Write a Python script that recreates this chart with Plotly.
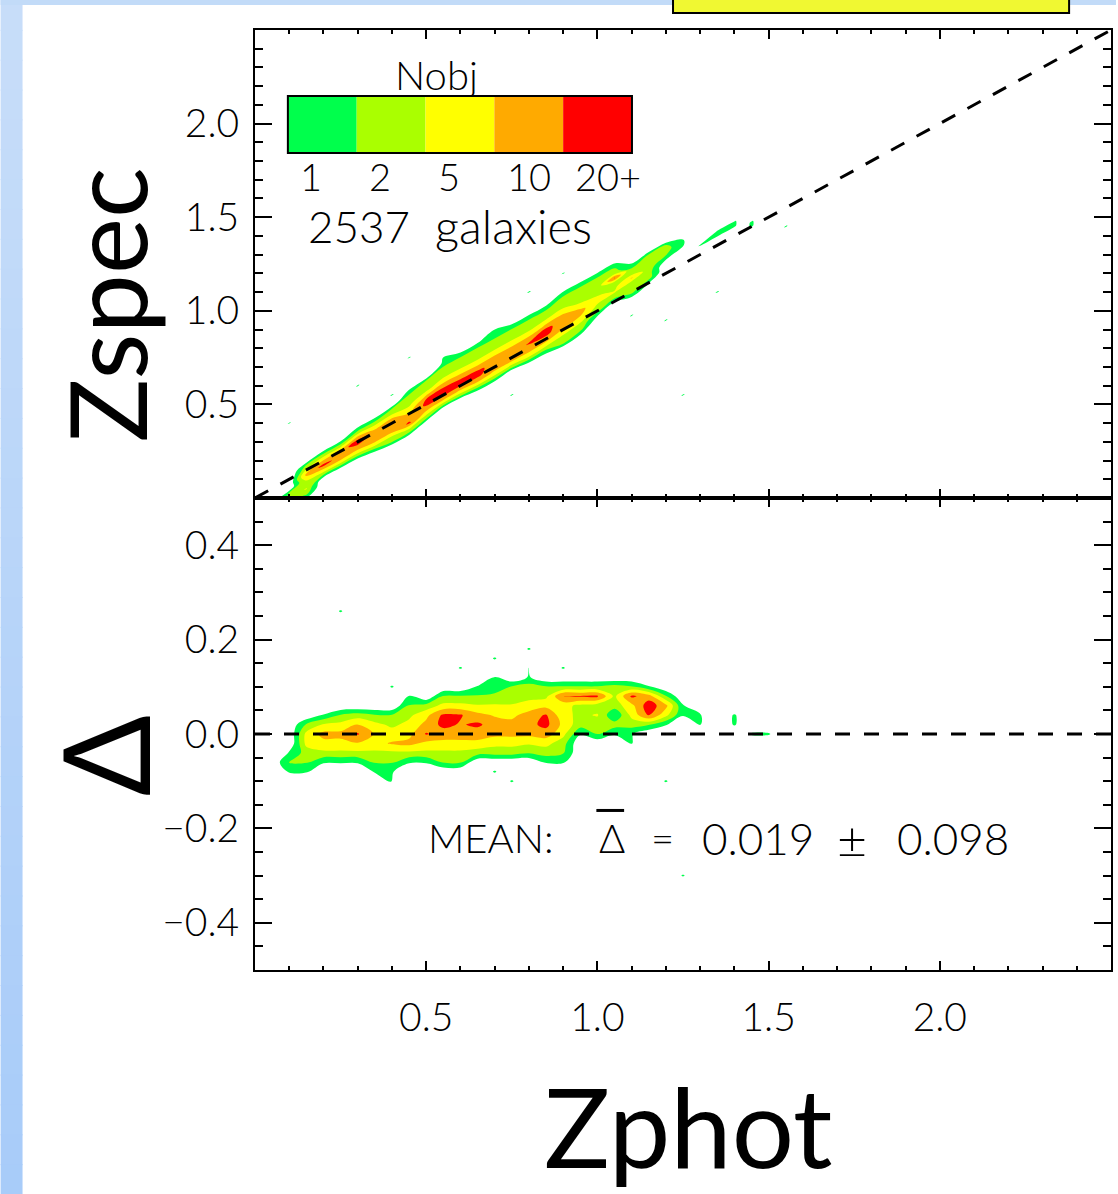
import numpy as np
import plotly.graph_objects as go
from plotly.subplots import make_subplots

# ---------------------------------------------------------------- data ----
# Count levels of the filled density contours and their colours
LEVEL_COUNTS = [1, 2, 5, 10, 20]
LEVEL_LABELS = ["1", "2", "5", "10", "20+"]
LEVEL_COLORS = ["#00ff4c", "#aaff00", "#ffff00", "#ffaa00", "#ff0000"]

N_GALAXIES = 2537
MEAN_DELTA = 0.019
SIGMA_DELTA = 0.098

X_TICKS = [0.5, 1.0, 1.5, 2.0]
ZSPEC_TICKS = [0.5, 1.0, 1.5, 2.0]
DELTA_TICKS = [-0.4, -0.2, 0.0, 0.2, 0.4]

# Upper panel: galaxies per bin of zphot (0.05 wide) and of the offset
# zspec - zphot (0.025 wide).  Each column lists counts upward from
# TOP_OFFSET_FIRST.
TOP_ZPHOT = [0.10, 0.15, 0.20, 0.25, 0.30, 0.35, 0.40, 0.45, 0.50, 0.55,
             0.60, 0.65, 0.70, 0.75, 0.80, 0.85, 0.90, 0.95, 1.00, 1.05,
             1.10, 1.15, 1.20, 1.25, 1.30, 1.35, 1.40, 1.45]
TOP_OFFSET_FIRST = [-0.125, -0.150, -0.075, -0.075, -0.075, -0.100, -0.100, -0.100, -0.075, -0.050,
                    -0.050, -0.075, -0.075, -0.050, -0.075, -0.075, -0.075, -0.075, -0.025, 0.000,
                    -0.025, 0.000, 0.075, 0.100, 0.050, 0.050, 0.050, 0.000]
TOP_COUNTS = [
    [1, 3, 2],
    [1, 3, 5, 2, 6, 12, 5, 2],
    [2, 8, 24, 10, 4, 1],
    [2, 9, 16, 14, 4, 1],
    [2, 8, 16, 30, 12, 3, 1],
    [1, 4, 10, 16, 14, 8, 3, 1],
    [2, 4, 10, 16, 16, 10, 4, 2],
    [2, 6, 22, 14, 10, 6, 4, 3, 2, 1],
    [2, 6, 14, 22, 20, 9, 4, 3, 2],
    [3, 10, 22, 26, 16, 7, 4, 3, 2, 1],
    [3, 9, 20, 24, 14, 7, 4, 3, 2, 1],
    [1, 4, 12, 22, 22, 12, 6, 4, 3, 2, 1],
    [1, 4, 9, 14, 16, 13, 7, 4, 3, 2, 1],
    [3, 8, 20, 14, 12, 7, 4, 3, 2, 1],
    [1, 4, 9, 14, 20, 14, 7, 4, 3, 2, 1],
    [1, 3, 8, 14, 24, 24, 10, 5, 3, 2, 1],
    [2, 3, 5, 9, 12, 14, 12, 6, 4, 3, 2, 1],
    [1, 3, 4, 6, 10, 12, 7, 4, 3, 3, 2, 1],
    [1, 3, 4, 6, 5, 3, 3, 2, 2, 1],
    [1, 3, 5, 4, 3, 20, 3, 2, 1],
    [1, 3, 4, 3, 10, 3, 2, 1],
    [1, 3, 3, 3, 2, 3, 2],
    [1, 2, 3, 2],
    [1, 1],
    [1],
    [1, 1],
    [1, 1],
    [1, 1],
]
# isolated single galaxies in the upper panel (zphot, zspec - zphot)
TOP_SINGLE_ZPHOT = [0.10, 0.30, 0.40, 0.75, 1.25, 1.20, 1.10, 0.80, 0.90, 1.55, 0.45, 1.35, 0.70, 0.55]
TOP_SINGLE_OFFSET = [0.300, 0.300, 0.150, -0.200, -0.700, -0.250, -0.125, 0.300, 0.300, -0.100, 0.300, -0.250, 0.200, 0.200]

# Lower panel: galaxies per (zphot, delta) bin, bins of 0.05 x 0.02.
BOT_ZPHOT = [0.10, 0.15, 0.20, 0.25, 0.30, 0.35, 0.40, 0.45, 0.50, 0.55,
             0.60, 0.65, 0.70, 0.75, 0.80, 0.85, 0.90, 0.95, 1.00, 1.05,
             1.10, 1.15, 1.20, 1.25, 1.30, 1.40, 1.45, 1.50]
BOT_DELTA_FIRST = [-0.08, -0.08, -0.06, -0.06, -0.06, -0.08, -0.08, -0.06, -0.06, -0.06,
                   -0.06, -0.04, -0.04, -0.04, -0.04, -0.06, -0.06, 0.00, 0.00, 0.00,
                   0.00, 0.02, 0.02, 0.04, 0.02, 0.02, 0.00, 0.00]
BOT_COUNTS = [
    [1, 2, 1],
    [1, 2, 3, 6, 6, 2],
    [1, 4, 8, 12, 5, 1],
    [1, 4, 8, 12, 6, 2],
    [1, 4, 9, 20, 10, 3],
    [1, 2, 4, 8, 9, 6, 2],
    [1, 2, 4, 10, 7, 4, 2],
    [1, 4, 12, 8, 6, 4, 2, 1],
    [1, 4, 8, 20, 12, 8, 3],
    [2, 4, 8, 14, 24, 22, 6, 2],
    [2, 4, 8, 14, 18, 20, 6, 2],
    [3, 8, 14, 22, 12, 5, 2, 1],
    [3, 6, 12, 14, 9, 5, 3, 1],
    [3, 6, 12, 13, 8, 5, 3, 2],
    [2, 5, 12, 16, 14, 6, 4, 3, 1],
    [1, 3, 6, 14, 24, 20, 8, 4, 2],
    [1, 2, 3, 6, 8, 6, 6, 20, 2],
    [1, 3, 4, 4, 20, 2],
    [2, 3, 5, 3, 22, 2],
    [1, 3, 1, 3, 4, 2],
    [1, 3, 6, 8, 22, 2],
    [2, 20, 30, 14, 1],
    [1, 6, 12, 2],
    [1, 1],
    [1, 1],
    [1, 1],
    [1],
    [1],
]
# isolated single galaxies in the lower panel
BOT_SINGLE_ZPHOT = [0.40, 0.70, 0.80, 0.80, 0.90, 1.05, 0.70, 0.75, 1.20, 1.10, 0.40, 0.25, 1.25, 0.60, 0.70]
BOT_SINGLE_DELTA = [0.10, 0.16, 0.18, 0.14, 0.14, 0.10, -0.08, -0.10, -0.10, -0.02, -0.10, 0.26, -0.30, 0.14, 0.12]

# --------------------------------------------------------------- helpers ----
def count_grid(cols, firsts, counts, sx, sy, dx, dy, xr, yr):
    gx = np.round(np.arange(xr[0], xr[1] + dx / 2, dx), 4)
    gy = np.round(np.arange(yr[0], yr[1] + dy / 2, dy), 4)
    z = np.zeros((len(gy), len(gx)))
    for x, y0, col in zip(cols, firsts, counts):
        i = int(round((x - xr[0]) / dx))
        j0 = int(round((y0 - yr[0]) / dy))
        for k, c in enumerate(col):
            z[j0 + k, i] += c
    for x, y in zip(sx, sy):
        z[int(round((y - yr[0]) / dy)), int(round((x - xr[0]) / dx))] += 1
    return gx, gy, z


def to_level(z):
    # piecewise-linear index so that the uneven count levels become 1..5
    return np.interp(z, [0] + LEVEL_COUNTS + [2 * LEVEL_COUNTS[-1]],
                     list(range(len(LEVEL_COUNTS) + 2)))


CLEAR = "rgba(255,255,255,0)"
scale = [[0.0, CLEAR], [0.1, CLEAR]]
for k, c in enumerate(LEVEL_COLORS):
    lo = round(0.1 + 0.2 * k, 3)
    scale += [[lo, c], [min(round(lo + 0.2, 3), 1.0), c]]

FONT = "Lato, 'Open Sans', sans-serif"
contour_levels = dict(start=0.9, end=4.9, size=1, coloring="fill", showlines=False)

fig = make_subplots(rows=2, cols=1, shared_xaxes=True, vertical_spacing=0,
                    row_heights=[468, 472])

# upper panel: counts live on a sheared (zphot, zspec - zphot) carpet
ga, gb, zt = count_grid(TOP_ZPHOT, TOP_OFFSET_FIRST, TOP_COUNTS,
                        TOP_SINGLE_ZPHOT, TOP_SINGLE_OFFSET,
                        0.05, 0.025, (0.0, 1.7), (-0.8, 0.4))
AA, BB = np.meshgrid(ga, gb)
hidden = dict(showgrid=False, showline=False, showticklabels="none", startline=False,
              endline=False, minorgridcount=0, smoothing=0, gridcolor=CLEAR, linecolor=CLEAR)
fig.add_trace(go.Carpet(a=ga, b=gb, x=AA, y=AA + BB, carpet="zz",
                        aaxis=hidden, baxis=hidden), row=1, col=1)
fig.add_trace(go.Contourcarpet(a=ga, b=gb, z=to_level(zt), carpet="zz", autocontour=False,
                               contours=contour_levels, line=dict(width=0),
                               colorscale=scale, showscale=False), row=1, col=1)

bx, by, zb = count_grid(BOT_ZPHOT, BOT_DELTA_FIRST, BOT_COUNTS,
                        BOT_SINGLE_ZPHOT, BOT_SINGLE_DELTA,
                        0.05, 0.02, (0.0, 1.7), (-0.36, 0.30))
fig.add_trace(go.Contour(x=bx, y=by, z=to_level(zb), autocontour=False,
                         contours=contour_levels, line=dict(width=0), colorscale=scale,
                         showscale=False, hoverinfo="skip"), row=2, col=1)

# one-to-one relation and zero offset
dash = dict(color="black", width=3, dash="15px,14px")
fig.add_trace(go.Scatter(x=[0, 2.5], y=[0, 2.5], mode="lines", line=dash,
                         hoverinfo="skip", showlegend=False), row=1, col=1)
fig.add_trace(go.Scatter(x=[0, 2.5], y=[0, 0], mode="lines", line=dash,
                         hoverinfo="skip", showlegend=False), row=2, col=1)

# ----------------------------------------------------------------- axes ----
def axis_style(ticklen, minor_len, minor_dtick):
    return dict(showline=True, linewidth=2, linecolor="black", mirror="allticks",
                ticks="inside", ticklen=ticklen, tickwidth=2, tickcolor="black",
                showgrid=False, zeroline=False,
                minor=dict(tickmode="linear", tick0=0, dtick=minor_dtick, ticks="inside",
                           ticklen=minor_len, tickwidth=2, tickcolor="black", showgrid=False),
                tickfont=dict(family=FONT, size=39, color="black", weight=300))

fig.update_xaxes(range=[0, 2.5], tickmode="array", tickvals=X_TICKS, tickformat=".1f",
                 ticklabelstandoff=12, **axis_style(9, 4, 0.1))
fig.update_xaxes(showticklabels=False, row=1, col=1)
fig.update_yaxes(range=[0, 2.5], tickmode="array", tickvals=ZSPEC_TICKS, tickformat=".1f",
                 ticklabelstandoff=6, row=1, col=1, **axis_style(17, 8, 0.1))
fig.update_yaxes(range=[-0.5, 0.5], tickmode="array", tickvals=DELTA_TICKS, tickformat=".1f",
                 ticklabelstandoff=6, row=2, col=1, **axis_style(17, 8, 0.05))

# ------------------------------------------------------- page decoration ----
W, H = 1118, 1194
ML, MR, MT, MB = 255, 5, 30, 224
PW, PH = W - ML - MR, H - MT - MB


def px(x):
    return (x - ML) / PW


def py(y):
    return (H - MB - y) / PH


shapes = []
n_band = 40
top_rgb, bot_rgb = np.array([200, 222, 249]), np.array([168, 204, 249])
for k in range(n_band):
    c = top_rgb + (bot_rgb - top_rgb) * (k + 0.5) / n_band
    shapes.append(dict(type="rect", xref="paper", yref="paper", layer="below",
                       x0=px(0), x1=px(22), y0=py(H * (k + 1) / n_band + 1), y1=py(H * k / n_band),
                       fillcolor="rgb(%d,%d,%d)" % tuple(c), line=dict(width=0)))
shapes.append(dict(type="rect", xref="paper", yref="paper", layer="below",
                   x0=px(0), x1=px(W), y0=py(5), y1=py(0),
                   fillcolor="rgb(194,219,248)", line=dict(width=0)))
shapes.append(dict(type="rect", xref="paper", yref="paper",
                   x0=px(674), x1=px(1071), y0=py(13), y1=py(-6),
                   fillcolor="#f0f832", line=dict(color="black", width=2)))

# count-level key inside the upper panel (axis units of the upper panel)
KEY_X0, KEY_W, KEY_Y0, KEY_Y1 = 0.096, 0.201, 1.843, 2.147
for k, c in enumerate(LEVEL_COLORS):
    shapes.append(dict(type="rect", xref="x", yref="y",
                       x0=KEY_X0 + k * KEY_W, x1=KEY_X0 + (k + 1) * KEY_W,
                       y0=KEY_Y0, y1=KEY_Y1, fillcolor=c, line=dict(width=0)))
shapes.append(dict(type="rect", xref="x", yref="y", x0=KEY_X0,
                   x1=KEY_X0 + len(LEVEL_COLORS) * KEY_W, y0=KEY_Y0, y1=KEY_Y1,
                   line=dict(color="black", width=2)))

ann = []
txt = dict(family=FONT, size=40, color="black", weight=300)
num = dict(family=FONT, size=44, color="black", weight=300)
ann.append(dict(xref="x", yref="y", x=0.53, y=2.262, text="Nobj", showarrow=False,
                font=txt, xanchor="center", yanchor="middle"))
for k, lab in enumerate(LEVEL_LABELS):
    ann.append(dict(xref="x", yref="y", x=KEY_X0 + k * KEY_W + 0.03, y=1.722, text=lab,
                    showarrow=False, font=dict(family=FONT, size=38, color="black", weight=300),
                    xanchor="left", yanchor="middle"))
ann.append(dict(xref="x", yref="y", x=0.150, y=1.452, text=str(N_GALAXIES), showarrow=False,
                font=num, xanchor="left", yanchor="middle"))
ann.append(dict(xref="x", yref="y", x=0.520, y=1.452, text="galaxies", showarrow=False,
                font=dict(family=FONT, size=47, color="black", weight=300),
                xanchor="left", yanchor="middle"))

# mean offset statement in the lower panel
my = -0.221
for x, t, f in [(0.50, "MEAN:", txt), (0.998, "\u0394", txt), (1.152, "=", txt),
                (1.300, "%.3f" % MEAN_DELTA, num),
                (1.695, "\u00b1", dict(family=FONT, size=52, color="black", weight=300)),
                (1.868, "%.3f" % SIGMA_DELTA, num)]:
    ann.append(dict(xref="x2", yref="y2", x=x, y=my, text=t, showarrow=False,
                    font=f, xanchor="left", yanchor="middle"))
shapes.append(dict(type="line", xref="x2", yref="y2", x0=0.997, x1=1.078,
                   y0=-0.162, y1=-0.162, line=dict(color="black", width=3)))

# axis titles
big = dict(family=FONT, size=106, color="black")
ann.append(dict(xref="paper", yref="paper", x=px(106), y=py(305), text="Zspec",
                textangle=-90, showarrow=False, font=big, xanchor="center", yanchor="middle"))
ann.append(dict(xref="paper", yref="paper", x=px(104), y=py(756), text="\u0394",
                textangle=-90, showarrow=False, font=dict(family=FONT, size=120, color="black"),
                xanchor="center", yanchor="middle"))
ann.append(dict(xref="paper", yref="paper", x=px(690), y=py(1125), text="Zphot",
                showarrow=False, font=dict(family=FONT, size=110, color="black"),
                xanchor="center", yanchor="middle"))

fig.update_layout(width=W, height=H, margin=dict(l=ML, r=MR, t=MT, b=MB, pad=0),
                  paper_bgcolor="white", plot_bgcolor="white", showlegend=False,
                  shapes=shapes, annotations=ann)

fig.write_html("out.html")
